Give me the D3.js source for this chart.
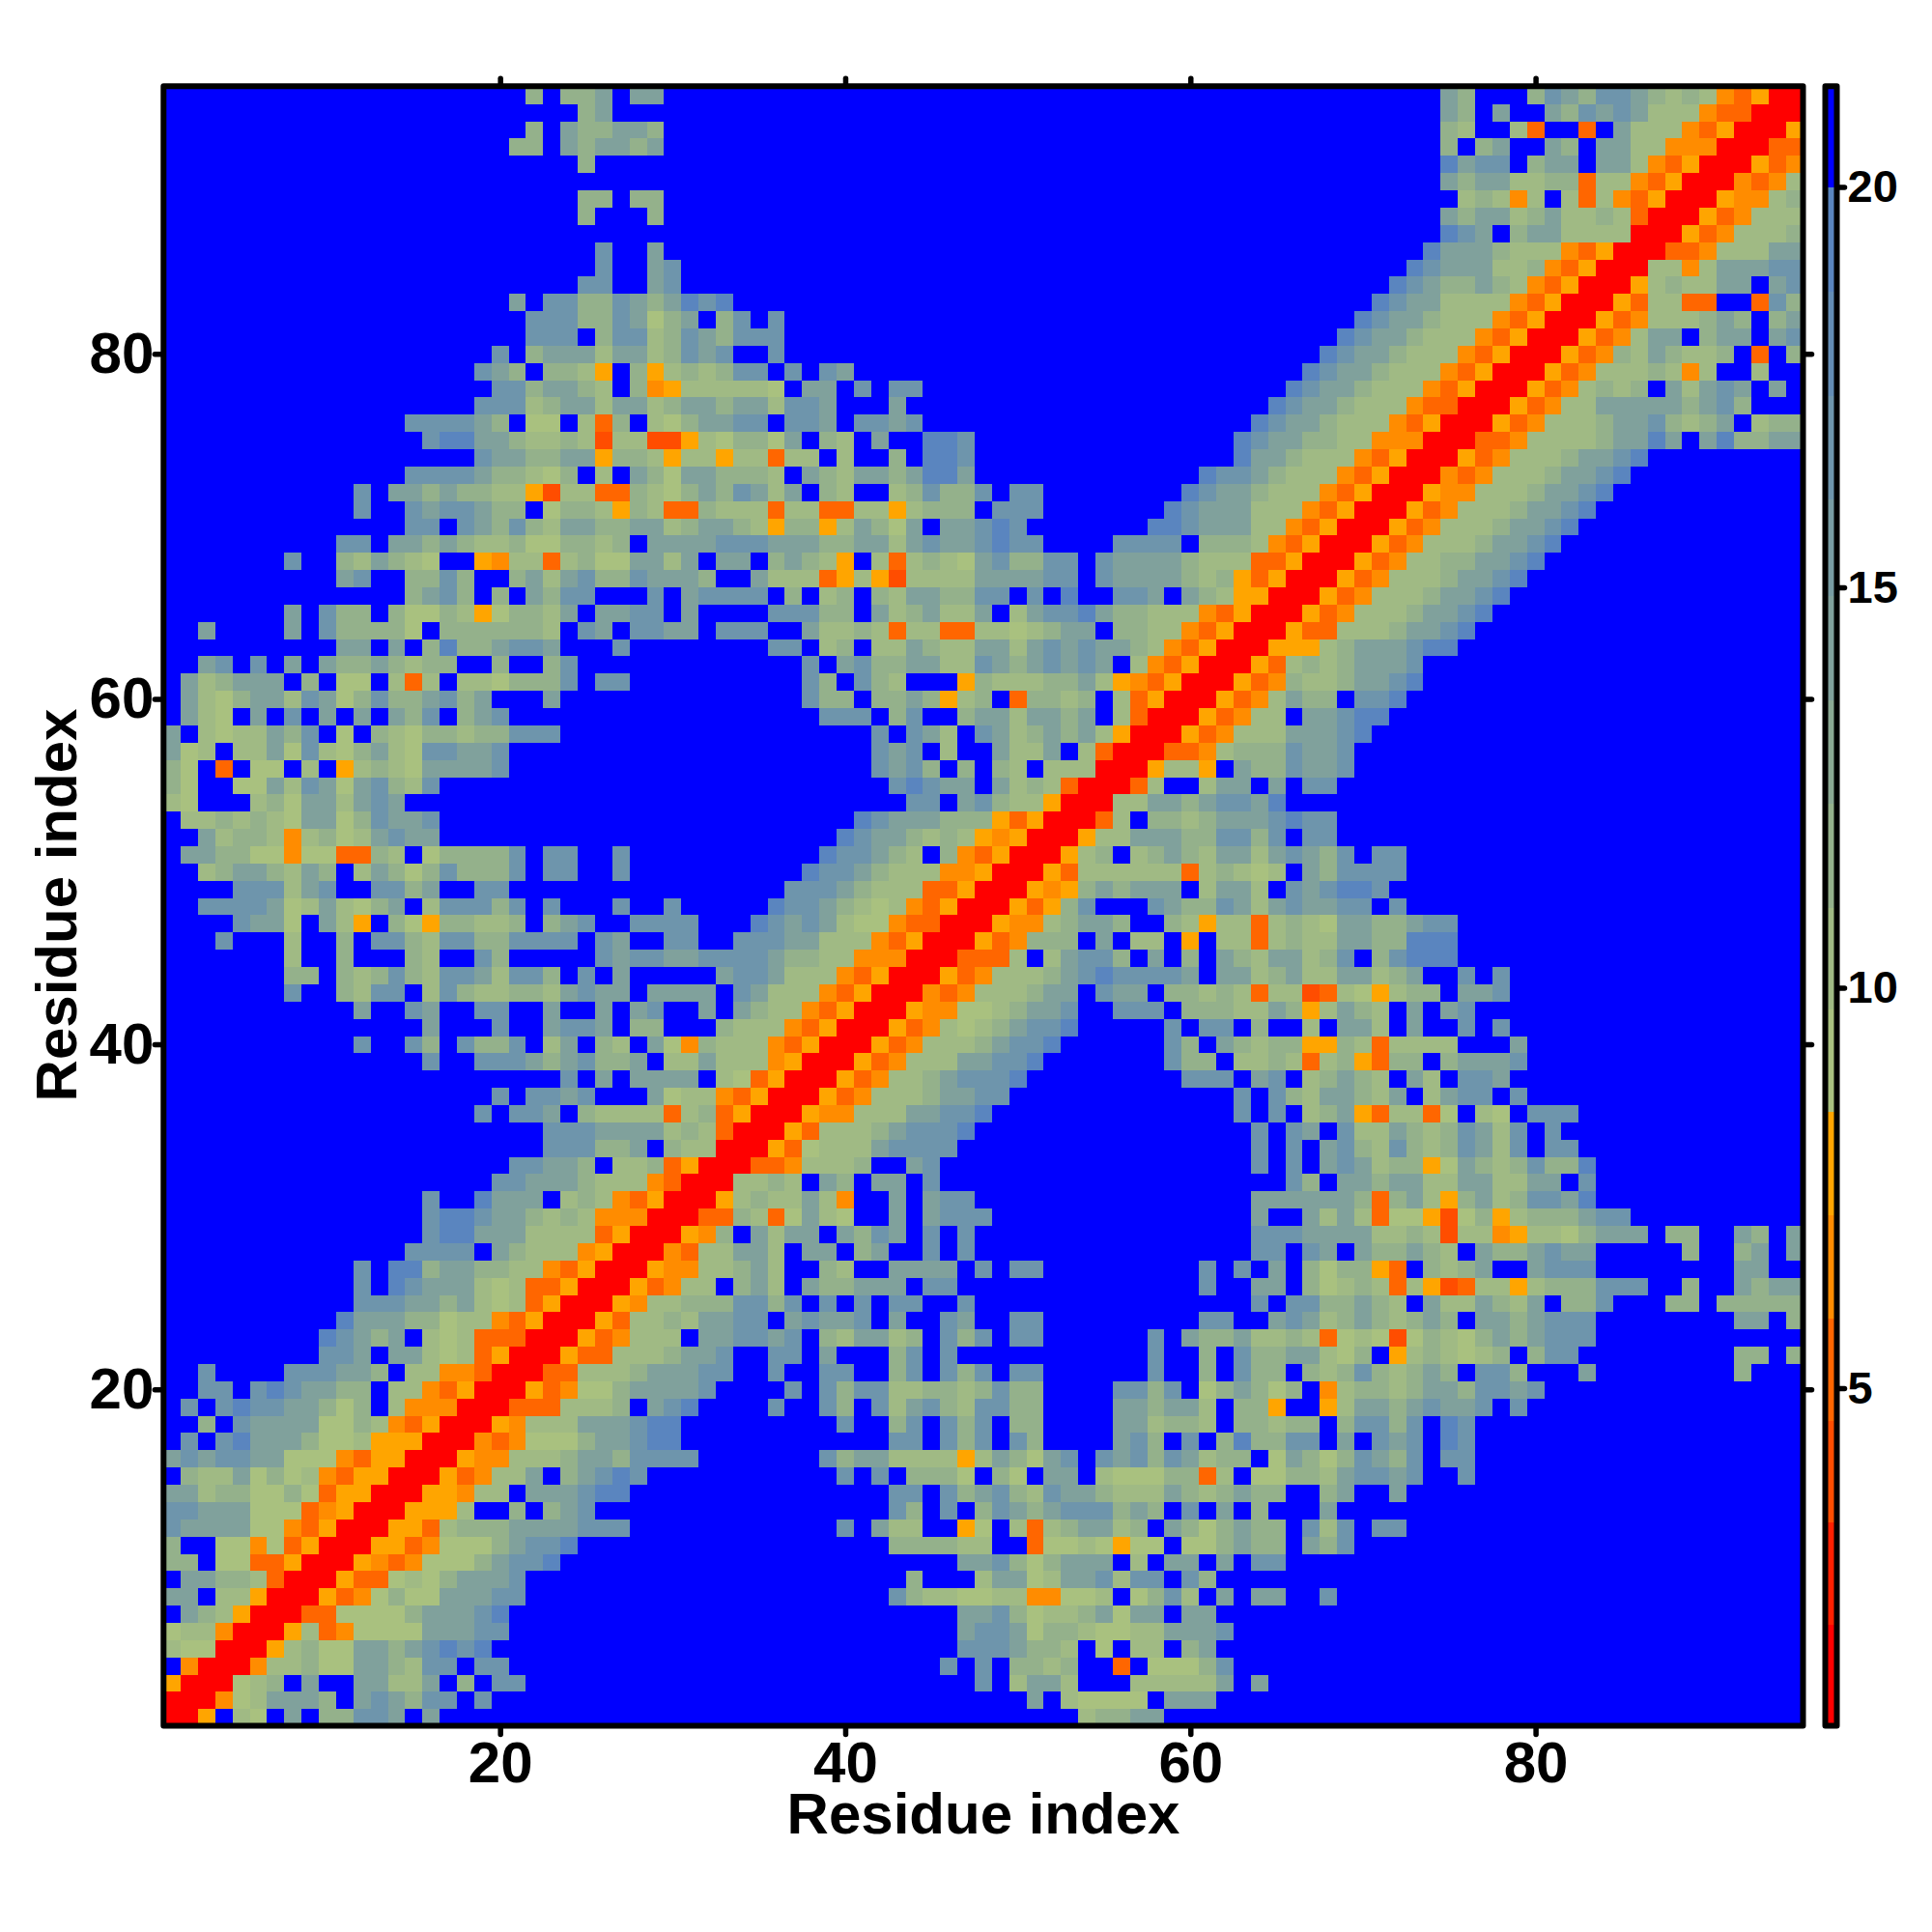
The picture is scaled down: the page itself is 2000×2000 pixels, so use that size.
<!DOCTYPE html>
<html>
<head>
<meta charset="utf-8">
<style>html,body{margin:0;padding:0;background:#fff}svg{display:block}</style>
<script src="https://cdn.jsdelivr.net/npm/d3@7/dist/d3.min.js"></script>
</head>
<body>
<svg id="chart" width="2000" height="2000"></svg>
<script>
// Distance matrix is symmetric: each row lists residue y against residues x >= y.
// '-' = mirrored half, trailing blue cells omitted, groups of ten columns.
const levelChars  = ["r","o","p","q","a","A","B","C","D","E","F","."];
const levelValues = [1.4,4.0,5.2,6.5,7.8,9.1,10.37,11.65,14.25,16.75,19.35,20.6];
const bandEdges  = [2.05,3.33,4.6,5.88,7.17,8.45,9.73,11.0,12.3,13.6,14.9,16.1,17.4,18.7,20.0];
const bandColors = ["#ff0000","#ff2000","#ff4d00","#ff6600","#ff8c00","#ffa500","#a9c17f","#a0ba84","#94b18b","#8aa993","#80a19c","#789ca3","#6e95ac","#648db5","#5a85bf","#0000ff"];
const axisTicks = [20,40,60,80];
const barTicks = [5,10,15,20];
const residues = d3.range(1,96);
const rows = [
"rra.BA.D.C CEED.D.... .......... .......... .......... ...BCCDD..",
"-rrqABDDDC .DEDCEE.E. .......... .......... .......... D.BAAAA.DD D.........",
"--rrABC.D. .DDBBD.C.E E......... .......... .......E.B DDB...BBBB BD.D......",
"---rrqBBCA ADDCBEE.EE .......... .......... .....E.E.C CBC..p.AAA CE........",
"----rraBCA ADDCDEFEF. .......... .......... ......EEED CCB.A.BB.C D.........",
"-----rraBp qAAAADDDEE .......... .......... ......DEED ACCBAABBDD DE........",
"------rrpp AAAACDDDEF .......... .......... ......DDEC ABBCDADD.D D.........",
"-------rra pqACAADDDE E......... .......... ..ECBBAABB qqAAB.ACEB .D.DD..E..",
"--------rr appABACDDD E......... .......... ...C...BDD ABDDEBEE.E C.........",
"---------r raqpqAAACD EEF....... .......... ......DDEC ACDDD.B.DD .D.EE.....",
"---------- rraapqAAAC DEEF...... .......... ..CCCCBB.. pAABAaAA.A ACDCC.DCE.",
"---------- -rraapBCCC DDDDEEE... .........E .DBB..aA.B pBCDDBC.DC ACDCC.EBE. EE........",
"---------- --rraaaB.. C.CDE..... .......... ..EC.E.CED CDEEECDC.E .D.C...D..",
"---------- ---rraaqBB .DDDEFF... .......... ..EE.ECDEC BEDDCBBBDC BCDCC..CD. .D........",
"---------- ----rrapqB BD.CDEFE.. .........E .E.CCCA.CA .DD.BAAACC pB.AACCBDE EDE..E....",
"---------- -----rraqq BBBCDDCEEE E.......EC DDBBBBaBDC ADE.EDECED BCC.ADCACE DCE.EE....",
"---------- ------rrqp qAAACDDEFF .......... ..EE.ECE.E C....DEC.E .CFCCEE.D. EDE.FE....",
"---------- -------rra qBBBDDDEFF .........E ..CE.ECE.C C....DDBCC B.CCBCC.CE ECE.FE....",
"---------- --------rr pppBBBC.DE F....E..EC .EBDECBEEC C....DDCDD B.CCa..aBD DCDEDDE.E.",
"---------- ---------r rapqAACDDD DE....E.EC EEBBCCBCEC C....EECE. ACDCAC.qBC CBCDDCEEDE",
"---------- ---------- rrppBBBCDD DEE..E..EE ..CE.ECE.E E......E.. C.ECC.CBCE CBCDC.EEC. ..D....... .C...",
"---------- ---------- -rrappBBBC DDE..EE.D. ..CE.E.... .......E.. C.ECCDDBAC .aBCBABC.C EE........ .CC.C",
"---------- ---------- --rrapqBBB .DDEEDE.CB DDBC.ECE.E E......E.D CCDBBCBpAB AoACBACDCD EEE.......",
"---------- ---------- ---rrapBBC BDDEE.DEDD E.D..ED..E E......... EE..DEDBCD CBCDC.DDCD EEE....... .DD.C",
"---------- ---------- ----rraqBB CCCEECE.E. E.EE..E... .......... ...E.EECCD CB.DBBDCBD .CCE...CC. CCCCC",
"---------- ---------- -----rrapq BB.CDB.DCC DDD.EE.... .......... E..DD.CABC BpBaopBBaB CCCEEE..C. .DCDD",
"---------- ---------- ------rraq qBBCDB..CB ..DDDD.E.E E......... E.E.D.CACC ap.CBCD..D EEE....... .DD..",
"---------- ---------- -------rrq pBBDDB.DD. CD..E.E... .......... ...EE.ED.D CCDCB.DCCD EDD.....C. .CD.D",
"---------- ---------- --------rr aqC.DBDD.D CED.E.E... .......... ...EEEDDDD BBCBoBBqaB BACDDD.CC. .DC.D",
"---------- ---------- ---------r rppCBpADBA ..D.DEEE.. .......... ...D..DBDB pAAaoACaBC CCDEE.....",
"---------- ---------- ---------- rraBCBBDBq ..D.DEE... .......... ...DDDDDDC pCDBaCDBCE EDF.......",
"---------- ---------- ---------- -rrBBCB.DC .DD.E..... .......... .....EC.DD CDDBBDDBBD D.E.......",
"---------- ---------- ---------- --rrppqBBB C..DE..... .......... ...E.E.DED BCCaADCBCE CCF.......",
"---------- ---------- ---------- ---rrapABB BDEEEE.... .......... ...E.E.DEC BECBCEDBE. EE........",
"---------- ---------- ---------- ----rrapBB BCDEEEF... .......... ...E.ED.EB BDCBCEDBE. E.........",
"---------- ---------- ---------- -----rraqq BBBDDEEF.. .......... ..E.E.BCDa pBBpA.BA.E EE........",
"---------- ---------- ---------- ------rrap qBBBCDDEE. .......... ..E.ECBDDC BD.BDEE.E.",
"---------- ---------- ---------- -------rra pqBBCDEEEF .........E EE.DE.BCDC B.DB.EED..",
"---------- ---------- ---------- --------rr apqBBBDDEE F.......EC C.BBCBpBCa pCC.CDDDE.",
"---------- ---------- ---------- ---------r rapqBBBCDE EF......EC .DCBCCaaCB pBBBB...D.",
"---------- ---------- ---------- ---------- rrapqBABCD EEF.....E. EE.C..B.DD B.D..E.E..",
"---------- ---------- ---------- ---------- -rraqqAABC DDE..EEE.C CCBBDCaBDC B.D.DE....",
"---------- ---------- ---------- ---------- --rrqpqBBB CDD.EDD.CC BCBpBBopBA aBCC.DDE..",
"---------- ---------- ---------- ---------- ---rrapqBB BCDEFEEEED .DDBCDBBDD BCD..E.E..",
"---------- ---------- ---------- ---------- ----rrpppB .BDEEC.D.C .DCBDDBCE. CEFFF.....",
"---------- ---------- ---------- ---------- -----rrapq CCC.D.BB.a .BBpBCBBDD CCFFF.....",
"---------- ---------- ---------- ---------- ------rraq qBCDDC..CB aBBpBCBADD CCDEE.....",
"---------- ---------- ---------- ---------- -------rra paCE...EDC CEDBDEDDEE .E........",
"---------- ---------- ---------- ---------- --------rr aqaCDCDDD. BDDB.EDEFF E.........",
"---------- ---------- ---------- ---------- ---------r rapBBBBBBp BCBAB.DCEE EE........",
"---------- ---------- ---------- ---------- ---------- rraBC.BCDC BDDBDEDCE. EE........",
"---------- ---------- ---------- ---------- ---------- -rraBBDDDC CEECE.EE..",
"---------- ---------- ---------- ---------- ---------- --rrpB.CCB CDDDEFEE..",
"---------- ---------- ---------- ---------- ---------- ---rrBBDDC DEEDF.....",
"---------- ---------- ---------- ---------- ---------- ----rrpB.. BDD.D.EE..",
"---------- ---------- ---------- ---------- ---------- -----rraBB a.DCCEDDE.",
"---------- ---------- ---------- ---------- ---------- ------rrpp qBCCCEDDE.",
"---------- ---------- ---------- ---------- ---------- -------rra pqBBBDDDEF",
"---------- ---------- ---------- ---------- ---------- --------rr apqBB.DDEF F.........",
"---------- ---------- ---------- ---------- ---------- ---------r rapqBDCC.E EF........",
"---------- ---------- ---------- ---------- ---------- ---------- rrapqCBBCD DEF.......",
"---------- ---------- ---------- ---------- ---------- ---------- -rrapBCBCD DDE.......",
"---------- ---------- ---------- ---------- ---------- ---------- --rraaaBCD DDEFF.....",
"---------- ---------- ---------- ---------- ---------- ---------- ---rrappBB BCDDEF....",
"---------- ---------- ---------- ---------- ---------- ---------- ----rrapqB BBCDDEF...",
"---------- ---------- ---------- ---------- ---------- ---------- -----rrapq BBBCDDEF..",
"---------- ---------- ---------- ---------- ---------- ---------- ------rrap qBBBCDDEF.",
"---------- ---------- ---------- ---------- ---------- ---------- -------rra pqBBCCDDEF",
"---------- ---------- ---------- ---------- ---------- ---------- --------rr apqBBBCDDE F.........",
"---------- ---------- ---------- ---------- ---------- ---------- ---------r rapqBBBCDD EF........",
"---------- ---------- ---------- ---------- ---------- ---------- ---------- rrapqBBBCD DEF.......",
"---------- ---------- ---------- ---------- ---------- ---------- ---------- -rraqqBBBC DDEF......",
"---------- ---------- ---------- ---------- ---------- ---------- ---------- --rrqpqBBB CDDEF.....",
"---------- ---------- ---------- ---------- ---------- ---------- ---------- ---rrapqBB BCDDEF....",
"---------- ---------- ---------- ---------- ---------- ---------- ---------- ----rrppqB BBBCDDFD.D FCCDD",
"---------- ---------- ---------- ---------- ---------- ---------- ---------- -----rrapq BBBCDDECBC D.BCC",
"---------- ---------- ---------- ---------- ---------- ---------- ---------- ------rrap qBBDDDDDCD EC...",
"---------- ---------- ---------- ---------- ---------- ---------- ---------- -------rra pqBCBC.DBD ED.D.",
"---------- ---------- ---------- ---------- ---------- ---------- ---------- --------rr apqBBBCBqB ..B..",
"---------- ---------- ---------- ---------- ---------- ---------- ---------- ---------r rapqCBDCBB C.p.C",
"---------- ---------- ---------- ---------- ---------- ---------- ---------- ---------- rrapqBDD.C DD.DE",
"---------- ---------- ---------- ---------- ---------- ---------- ---------- ---------- -rrapqBBBC DC.CD",
"---------- ---------- ---------- ---------- ---------- ---------- ---------- ---------- --rrapBBpp ..pEC",
"---------- ---------- ---------- ---------- ---------- ---------- ---------- ---------- ---rraBCBB DD.DE",
"---------- ---------- ---------- ---------- ---------- ---------- ---------- ---------- ----rrBBqB DDDEE",
"---------- ---------- ---------- ---------- ---------- ---------- ---------- ---------- -----rrppq BBBDD",
"---------- ---------- ---------- ---------- ---------- ---------- ---------- ---------- ------rrap qBBBC",
"---------- ---------- ---------- ---------- ---------- ---------- ---------- ---------- -------rra pqBBB",
"---------- ---------- ---------- ---------- ---------- ---------- ---------- ---------- --------rr aqqBC",
"---------- ---------- ---------- ---------- ---------- ---------- ---------- ---------- ---------r rqpqB",
"---------- ---------- ---------- ---------- ---------- ---------- ---------- ---------- ---------- rrapq",
"---------- ---------- ---------- ---------- ---------- ---------- ---------- ---------- ---------- -rrpp",
"---------- ---------- ---------- ---------- ---------- ---------- ---------- ---------- ---------- --rra",
"---------- ---------- ---------- ---------- ---------- ---------- ---------- ---------- ---------- ---rr",
"---------- ---------- ---------- ---------- ---------- ---------- ---------- ---------- ---------- ----r"
];

const svg = d3.select("#chart");
const FONT = "'Liberation Sans', Arial, sans-serif";
const P = {l:169.3, r:1866.5, t:89.3, b:1786.6};
const x = d3.scaleLinear().domain([0.5,95.5]).range([P.l,P.r]);
const y = d3.scaleLinear().domain([0.5,95.5]).range([P.b,P.t]);
const color = d3.scaleThreshold().domain(bandEdges).range(bandColors);
const charValue = new Map(levelChars.map((c,i)=>[c,levelValues[i]]));
const matrix = rows.map(r=>r.replace(/ /g,"").padEnd(95,"."));
const cellValue = (a,b)=>charValue.get(matrix[Math.min(a,b)-1][Math.max(a,b)-1]);

const cells = residues.flatMap(a=>residues.map(b=>({x:a,y:b,v:cellValue(a,b)})));
svg.append("g").attr("shape-rendering","crispEdges").selectAll("rect").data(cells).join("rect")
  .attr("x",d=>x(d.x-0.5)).attr("y",d=>y(d.y+0.5))
  .attr("width",d=>x(d.x+0.5)-x(d.x-0.5)+0.6).attr("height",d=>y(d.y-0.5)-y(d.y+0.5)+0.6)
  .attr("fill",d=>color(d.v));

function styleAxis(g,size){
  g.select(".domain").remove();
  g.selectAll(".tick line").attr("stroke","#000").attr("stroke-width",5.5).attr("stroke-linecap","round");
  g.selectAll(".tick text").attr("fill","#000").attr("font-family",FONT).attr("font-weight","bold").attr("font-size",size);
}
svg.append("g").attr("transform",`translate(0,${P.b+2})`)
  .call(d3.axisBottom(x).tickValues(axisTicks).tickSize(7).tickPadding(7).tickFormat(d3.format("d")))
  .call(g=>styleAxis(g,60));
svg.append("g").attr("transform",`translate(${P.l-2},0)`)
  .call(d3.axisLeft(y).tickValues(axisTicks).tickSize(7).tickPadding(1).tickFormat(d3.format("d")))
  .call(g=>styleAxis(g,60));
svg.append("g").attr("transform",`translate(0,${P.t-2})`)
  .call(d3.axisTop(x).tickValues(axisTicks).tickSize(6).tickFormat(""))
  .call(g=>styleAxis(g,10));
svg.append("g").attr("transform",`translate(${P.r+2},0)`)
  .call(d3.axisRight(y).tickValues(axisTicks).tickSize(7).tickFormat(""))
  .call(g=>styleAxis(g,10));

svg.append("rect").attr("x",P.l).attr("y",P.t).attr("width",P.r-P.l).attr("height",P.b-P.t)
  .attr("fill","none").attr("stroke","#000").attr("stroke-width",6).attr("stroke-linejoin","round");

svg.append("text").attr("x",1018).attr("y",1898).attr("text-anchor","middle")
  .attr("font-family",FONT).attr("font-weight","bold").attr("font-size",60).text("Residue index");
svg.append("text").attr("transform","translate(79,937) rotate(-90)").attr("text-anchor","middle")
  .attr("font-family",FONT).attr("font-weight","bold").attr("font-size",60).text("Residue index");

// colour key
const barY = d3.scaleLinear().domain([5,20]).range([1437,193.5]);
const barDomain = [barY.invert(P.b),...bandEdges,barY.invert(P.t)];
const barBands = d3.pairs(barDomain);
const barX0 = 1889.5, barX1 = 1901.5;
svg.append("g").attr("shape-rendering","crispEdges").selectAll("rect").data(barBands).join("rect")
  .attr("x",barX0).attr("width",barX1-barX0)
  .attr("y",d=>barY(d[1])).attr("height",d=>barY(d[0])-barY(d[1])+0.5)
  .attr("fill",d=>color((d[0]+d[1])/2));
svg.append("rect").attr("x",barX0).attr("y",P.t).attr("width",barX1-barX0).attr("height",P.b-P.t)
  .attr("fill","none").attr("stroke","#000").attr("stroke-width",6).attr("stroke-linejoin","round");
svg.append("g").attr("transform",`translate(${barX1+2},0)`)
  .call(d3.axisRight(barY).tickValues(barTicks).tickSize(6).tickPadding(3).tickFormat(d3.format("d")))
  .call(g=>styleAxis(g,47));
</script>
</body>
</html>
